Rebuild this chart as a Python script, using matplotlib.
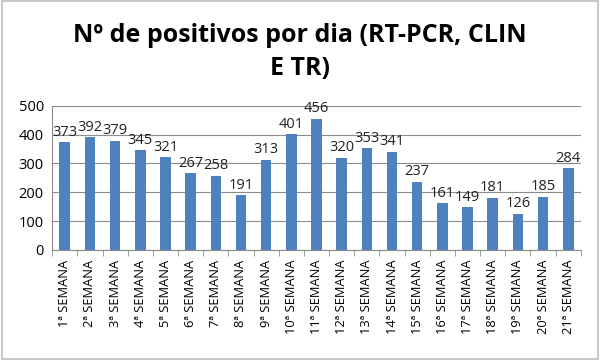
import matplotlib
matplotlib.use("Agg")
import matplotlib.pyplot as plt
from matplotlib.patches import Rectangle

categories = [f"{i}ª SEMANA" for i in range(1, 22)]
values = [373, 392, 379, 345, 321, 267, 258, 191, 313, 401, 456,
          320, 353, 341, 237, 161, 149, 181, 126, 185, 284]
yticks = [0, 100, 200, 300, 400, 500]
title = "Nº de positivos por dia (RT-PCR, CLIN\nE TR)"

plt.rcParams['font.family'] = ['Open Sans', 'DejaVu Sans']

fig = plt.figure(figsize=(6, 3.6), dpi=100)
ax = fig.add_axes([0.087, 0.306, 0.881, 0.400])

x = list(range(len(values)))
ax.bar(x, values, width=0.42, color="#4F81BD", zorder=3)
for xi, v in zip(x, values):
    ax.text(xi, v + 8, str(v), ha="center", va="bottom", fontsize=10.5, color="#222222", zorder=4)

ax.set_xlim(-0.5, len(values) - 0.5)
ax.set_ylim(0, 500)
ax.set_yticks(yticks)
ax.set_yticklabels([str(t) for t in yticks], fontsize=10.5)
ax.yaxis.grid(True, color="#8c8c8c", linewidth=0.8, zorder=0)
ax.tick_params(axis="y", length=0, pad=6)

ax.set_xticks(x)
ax.set_xticklabels(categories, rotation=90, fontsize=9.3)
ax.tick_params(axis="x", length=0, pad=7)
# boundary ticks
ax.set_xticks([i - 0.5 for i in range(len(values) + 1)], minor=True)
ax.tick_params(axis="x", which="minor", length=4, color="#8c8c8c")

for s in ["top", "right"]:
    ax.spines[s].set_visible(False)
for s in ["left", "bottom"]:
    ax.spines[s].set_color("#8c8c8c")

fig.text(0.5, 0.855, title, ha="center", va="center", fontsize=18, fontweight="bold",
         linespacing=1.45)

fig.patches.append(Rectangle((0.003, 0.004), 0.994, 0.992, transform=fig.transFigure,
                             fill=False, edgecolor="#bfbfbf", linewidth=1.2))

fig.savefig("out.png", dpi=100)
